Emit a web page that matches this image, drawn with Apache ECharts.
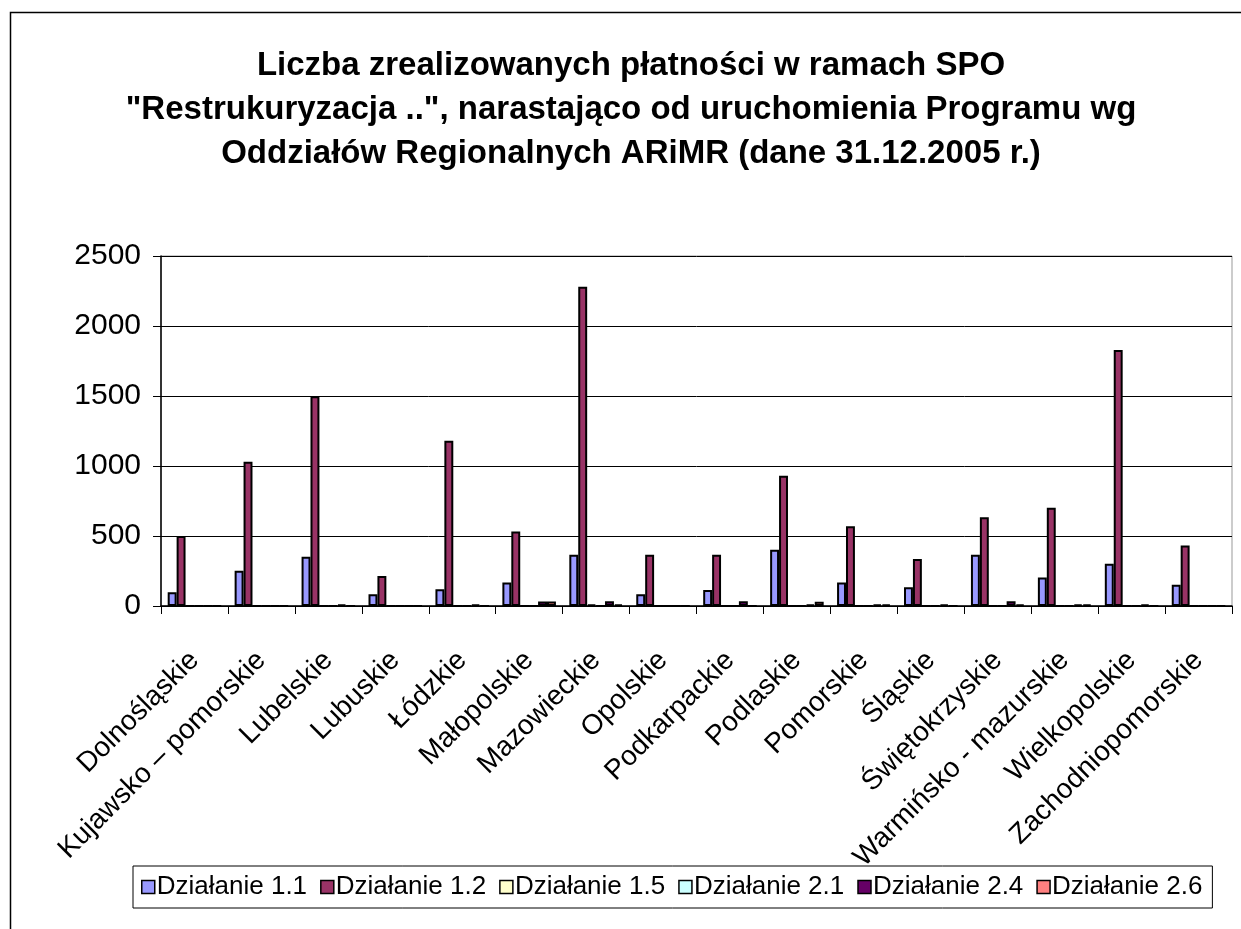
<!DOCTYPE html>
<html>
<head>
<meta charset="utf-8">
<script src="https://cdn.jsdelivr.net/npm/echarts@6/dist/echarts.min.js"></script>
<style>
  html, body { margin: 0; padding: 0; background: #fff; }
  #chart { width: 1241px; height: 929px; }
</style>
</head>
<body>
<div id="chart"></div>
<script>
// regiony (Oddziały Regionalne ARiMR)
const regions = ['Dolnośląskie', 'Kujawsko – pomorskie', 'Lubelskie', 'Lubuskie', 'Łódzkie',
  'Małopolskie', 'Mazowieckie', 'Opolskie', 'Podkarpackie', 'Podlaskie', 'Pomorskie',
  'Śląskie', 'Świętokrzyskie', 'Warmińsko - mazurskie', 'Wielkopolskie', 'Zachodniopomorskie'];

const seriesNames = ['Działanie 1.1', 'Działanie 1.2', 'Działanie 1.5', 'Działanie 2.1', 'Działanie 2.4', 'Działanie 2.6'];
const seriesColors = ['#9999FF', '#993366', '#FFFFCC', '#CCFFFF', '#660066', '#FF8080'];

// liczba płatności
const dzialanie11 = [98, 251, 351, 84, 120, 167, 366, 84, 115, 402, 167, 134, 366, 203, 301, 151];
const dzialanie12 = [500, 1031, 1498, 215, 1181, 533, 2281, 366, 366, 931, 569, 335, 634, 701, 1829, 433];
const dzialanie15 = [0, 0, 0, 0, 0, 0, 10, 0, 0, 0, 0, 0, 0, 0, 0, 0];
const dzialanie21 = [0, 0, 0, 0, 0, 0, 0, 0, 0, 0, 0, 0, 0, 0, 0, 0];
const dzialanie24 = [0, 0, 10, 0, 10, 32, 34, 0, 34, 10, 10, 10, 34, 10, 10, 0];
const dzialanie26 = [0, 0, 0, 0, 0, 32, 12, 0, 0, 30, 10, 0, 10, 10, 0, 0];

const yTicks = [0, 500, 1000, 1500, 2000, 2500];

const titleText = 'Liczba zrealizowanych płatności w ramach SPO\n' +
  '"Restrukuryzacja ..", narastająco od uruchomienia Programu wg\n' +
  'Oddziałów Regionalnych ARiMR (dane 31.12.2005 r.)';

const allData = [dzialanie11, dzialanie12, dzialanie15, dzialanie21, dzialanie24, dzialanie26];

const chart = echarts.init(document.getElementById('chart'), null, { renderer: 'canvas' });

const option = {
  backgroundColor: '#fff',
  animation: false,
  textStyle: { fontFamily: 'Liberation Sans, Arial, sans-serif', color: '#000' },
  graphic: [{
    type: 'rect',
    shape: { x: 10.5, y: 12.5, width: 1240, height: 1000 },
    style: { fill: 'none', stroke: '#000', lineWidth: 1.5 },
    silent: true,
    z: -1
  }],
  title: {
    text: titleText,
    left: 626,
    textAlign: 'center',
    top: 39,
    textStyle: {
      fontFamily: 'Liberation Sans, Arial, sans-serif',
      fontSize: 33,
      fontWeight: 'bold',
      lineHeight: 44,
      color: '#000'
    }
  },
  legend: {
    data: seriesNames,
    left: 133,
    top: 866,
    orient: 'horizontal',
    icon: 'rect',
    itemWidth: 13,
    itemHeight: 13,
    itemGap: 13,
    padding: [8, 10, 8, 8],
    borderColor: '#000',
    borderWidth: 1,
    itemStyle: { borderColor: '#000', borderWidth: 1.5 },
    textStyle: { fontSize: 26, color: '#000', padding: [0, 0, 0, -3] }
  },
  grid: {
    left: 161,
    right: 9,
    top: 256,
    bottom: 323,
    show: true,
    borderColor: '#999',
    borderWidth: 1
  },
  xAxis: {
    type: 'category',
    data: regions,
    axisLine: { lineStyle: { color: '#000', width: 1.5 } },
    axisTick: { show: true, length: 8, interval: 0, lineStyle: { color: '#000' } },
    axisLabel: {
      interval: 0,
      rotate: 45,
      fontSize: 28,
      color: '#000',
      margin: 50
    },
    splitLine: { show: false }
  },
  yAxis: {
    type: 'value',
    min: yTicks[0],
    max: yTicks[yTicks.length - 1],
    interval: 500,
    axisLine: { show: true, lineStyle: { color: '#000', width: 1.5 } },
    axisTick: { show: true, length: 8, lineStyle: { color: '#000' } },
    axisLabel: { fontSize: 30, color: '#000', margin: 20, formatter: v => String(v) },
    splitLine: { show: true, lineStyle: { color: '#000', width: 1 } }
  },
  series: seriesNames.map((name, i) => ({
    name: name,
    type: 'bar',
    data: allData[i],
    barGap: '0%',
    barCategoryGap: '20%',
    itemStyle: {
      color: seriesColors[i],
      borderColor: '#000',
      borderWidth: 2
    }
  }))
};

chart.setOption(option);
</script>
</body>
</html>
